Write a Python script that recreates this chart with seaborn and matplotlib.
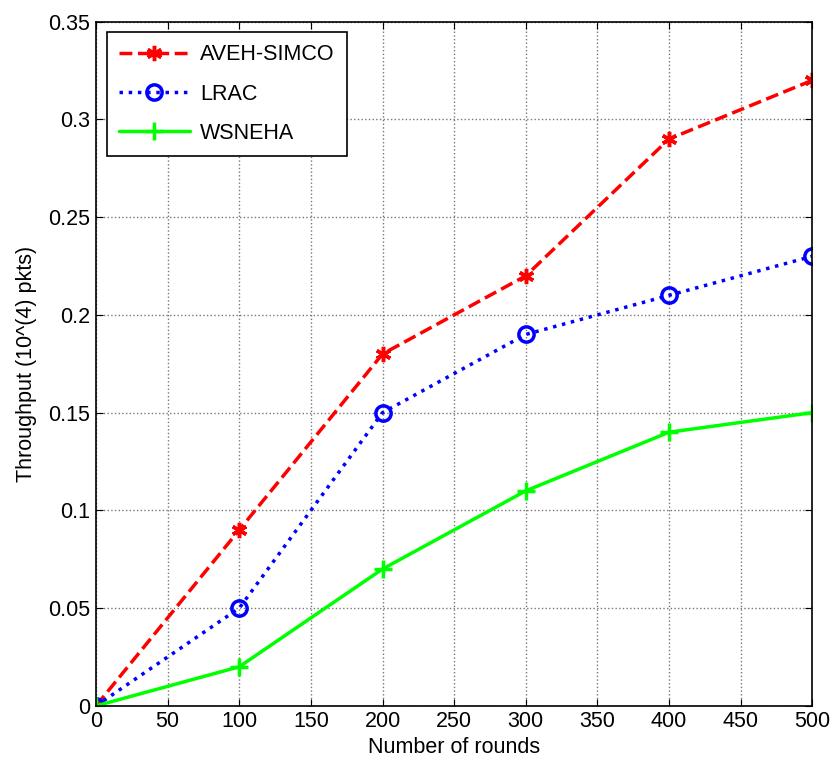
import matplotlib
matplotlib.use("Agg")
import matplotlib.pyplot as plt
import seaborn as sns

rounds = [0, 100, 200, 300, 400, 500]
aveh = [0, 0.09, 0.18, 0.22, 0.29, 0.32]
lrac = [0, 0.05, 0.15, 0.19, 0.21, 0.23]
wsneha = [0, 0.02, 0.07, 0.11, 0.14, 0.15]

sns.set_style("ticks")
plt.rcParams['font.family'] = ['Liberation Sans', 'DejaVu Sans']
plt.rcParams['text.color'] = 'black'
plt.rcParams['axes.labelcolor'] = 'black'
plt.rcParams['xtick.color'] = 'black'
plt.rcParams['ytick.color'] = 'black'

fig = plt.figure(figsize=(8.31, 7.74), dpi=100)
ax = fig.add_axes([0.1155, 0.088, 0.862, 0.884])

sns.lineplot(x=rounds, y=aveh, ax=ax, color='red', linestyle='--', linewidth=2.5,
             marker=(6, 2, 0), markersize=11, markeredgewidth=2.5, markeredgecolor='red',
             label='AVEH-SIMCO')
sns.lineplot(x=rounds, y=lrac, ax=ax, color='blue', linestyle=':', linewidth=2.5,
             marker='o', markersize=11, markeredgewidth=2.5, markeredgecolor='blue',
             markerfacecolor='none', label='LRAC')
sns.lineplot(x=rounds, y=wsneha, ax=ax, color='#00ff00', linestyle='-', linewidth=2.5,
             marker='+', markersize=13, markeredgewidth=2.5, markeredgecolor='#00ff00',
             label='WSNEHA')

ax.set_xlim(0, 500)
ax.set_ylim(0, 0.35)
ax.set_xticks(range(0, 501, 50))
ax.set_yticks([0, 0.05, 0.1, 0.15, 0.2, 0.25, 0.3, 0.35])
ax.set_yticklabels(['0', '0.05', '0.1', '0.15', '0.2', '0.25', '0.3', '0.35'])
ax.grid(True, linestyle=':', color='#777777', linewidth=1.0)
ax.tick_params(direction='in', labelsize=15.5, length=5, top=True, right=True, pad=4)
for s in ax.spines.values():
    s.set_linewidth(1.2)
    s.set_color('black')
ax.set_xlabel('Number of rounds', fontsize=15.5, labelpad=3)
ax.set_ylabel('Throughput (10^(4) pkts)', fontsize=15.5, labelpad=8)

leg = ax.legend(loc='upper left', fontsize=15.5, frameon=True, fancybox=False,
                edgecolor='black', framealpha=1, handlelength=3.3, borderpad=0.55,
                labelspacing=0.85, borderaxespad=0.5, handletextpad=0.5)
leg.get_frame().set_linewidth(1.2)

fig.savefig('out.png', dpi=100)
